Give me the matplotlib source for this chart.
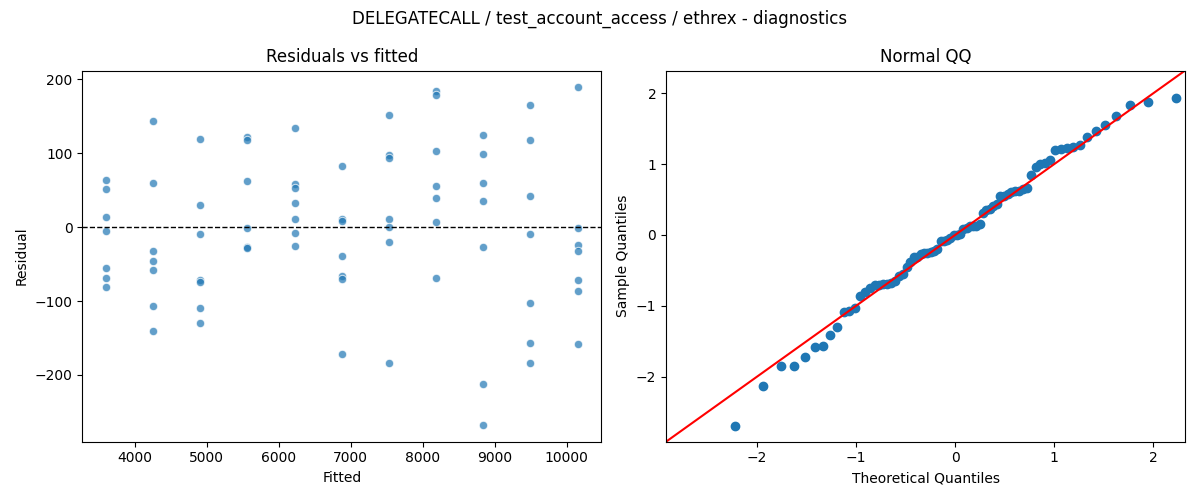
import numpy as np
import matplotlib
matplotlib.use("Agg")
import matplotlib.pyplot as plt
from statistics import NormalDist

# fitted levels (one per group) and residuals
fitted_levels = [3600, 4255, 4910, 5565, 6220, 6875, 7530, 8185, 8840, 9495, 10150]
residual_groups = [
    [64.5, 52.3, 13.5, -5.4, -55.4, -69.3, -81.5],
    [143.2, 59.5, -32.4, -45.9, -58.1, -106.8, -140.5],
    [119.9, 29.7, -9.5, -71.6, -74.8, -109.5, -129.7],
    [122.0, 118.0, 63.0, -1.4, -26.2, -27.5],
    [134.7, 58.5, 52.6, 33.4, 11.7, -8.1, -25.3],
    [82.4, 11.2, 8.9, -39.6, -65.8, -69.9, -171.2],
    [151.4, 97.7, 93.1, 10.8, 0.0, -20.3, -183.8],
    [184.2, 179.6, 103.6, 56.4, 39.2, 6.8, -68.9],
    [124.3, 98.6, 59.5, 35.1, -27.0, -212.2, -267.6],
    [164.9, 117.6, 41.9, -9.5, -102.7, -156.8, -183.8],
    [189.2, -1.4, -24.3, -32.4, -71.6, -86.5, -158.1],
]

title = "DELEGATECALL / test_account_access / ethrex - diagnostics"

fitted = np.concatenate([[f] * len(g) for f, g in zip(fitted_levels, residual_groups)])
resid = np.concatenate(residual_groups)

# normal QQ: standardized sample quantiles vs theoretical quantiles
n = len(resid)
sample_q = np.sort((resid - resid.mean()) / resid.std())
theo_q = np.array([NormalDist().inv_cdf(i / (n + 1)) for i in range(1, n + 1)])

fig, (ax1, ax2) = plt.subplots(1, 2, figsize=(12, 5), dpi=100)

ax1.scatter(fitted, resid, s=36, color="C0", alpha=0.7, edgecolor="white", linewidth=0.75)
ax1.axhline(0, color="black", linestyle="--", linewidth=1)
ax1.set_title("Residuals vs fitted")
ax1.set_xlabel("Fitted")
ax1.set_ylabel("Residual")

ax2.plot(theo_q, sample_q, "o", color="C0", markersize=6)
lims = [-2.92, 2.32]
ax2.plot(lims, lims, "r-")
ax2.set_xlim(lims)
ax2.set_ylim(lims)
ax2.set_title("Normal QQ")
ax2.set_xlabel("Theoretical Quantiles")
ax2.set_ylabel("Sample Quantiles")

fig.suptitle(title)
fig.tight_layout()
fig.savefig("out.png")
